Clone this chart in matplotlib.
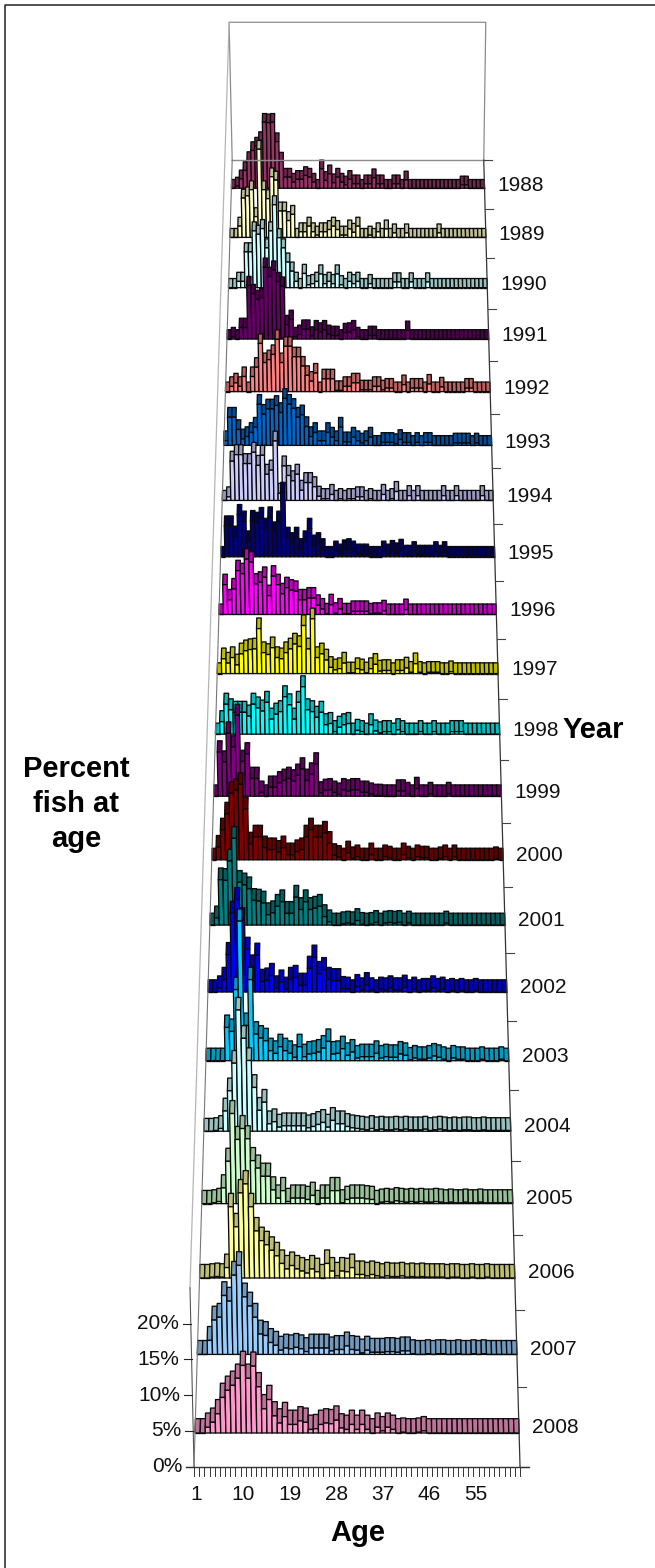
import matplotlib
matplotlib.use('Agg')
import matplotlib.pyplot as plt
from matplotlib.collections import PolyCollection
from matplotlib.colors import to_rgb

plt.rcParams['font.family'] = ['Liberation Sans', 'DejaVu Sans']

years = list(range(1988, 2009))
age_ticks = [1, 10, 19, 28, 37, 46, 55]
pct_ticks = [0, 5, 10, 15, 20]

# percent at age (63 ages per year)
v1988 = [0, .4, 1.7, 3.2, 5, 6.8, 7.6, 8.6, 11.9, 11.8,
         11.9, 8.4, 4.9, 2, 2, 1.1, 1.6, 1.6, 2.3, 2,
         1.1, 0, 3.5, 1.4, 2.6, 1, 2, 1.1, .6, 1.6,
         .8, .8, 0, .8, .8, 1.9, .8, .8, 0, 0,
         .8, .8, 0, 1.5, 0, 0, 0, 0, 0, 0,
         0, 0, 0, 0, 0, 0, 0, .6, .6, 0,
         0, 0, 0]
v1989 = [0, 0, 2, 7, 7.4, 8.5, 3.7, 15.7, 8.5, 6.9,
         10.8, 10.2, 4.7, 4.7, 3, 4.1, 0, 1, 1, 2,
         1, .4, 1, 1, 1.4, 2, 1.4, .4, .4, 1.5,
         .9, 2, 0, 0, .4, 0, 1, 0, 1.5, 0,
         .8, 0, 0, .8, 0, 0, 0, 0, 0, 0,
         0, .8, 0, 0, 0, 0, 0, 0, 0, 0,
         0, 0, 0]
v1990 = [0, 0, 1.1, 1.1, 6.3, 6.3, 10, 9.4, 10.4, 7,
         10, 14.6, 8.8, 7, 4.5, 2.9, 1.1, 0, 2.5, .5,
         .7, 1.1, 2.4, .7, 1.1, .7, 2.4, .5, 0, 1.1,
         .7, 1.1, 0, 0, .7, 0, 0, 0, 0, 0,
         1, 1, 0, 0, 1, 0, 0, 0, 1, 0,
         0, 0, 0, 0, 0, 0, 0, 0, 0, 0,
         0, 0, 0]
v1991 = [0, .4, 0, 2, 2, 9.3, 7.9, 6.9, 7.2, 12.5,
         10.9, 12, 10, 9.2, 2.5, 3.4, .4, .8, 1.7, 1.7,
         .5, 1.6, 1.2, 1.6, .8, .6, .6, 0, 1.1, 1.2,
         1.6, .4, 0, 0, .6, .6, 0, 0, 0, 0,
         0, 0, 0, 1.5, 0, 0, 0, 0, 0, 0,
         0, 0, 0, 0, 0, 0, 0, 0, 0, 0,
         0, 0, 0]
v1992 = [0, .9, 1.5, .9, 2.6, 0, 2.6, 4.2, 8.3, 5,
         5.5, 6.4, 9, 5, 7.8, 7.8, 6, 6, 4.4, 2.8,
         1.8, 3.2, 0, 2.2, 2.2, 2.2, .2, .2, .9, .9,
         1.5, 1.5, .3, .3, .3, .9, .9, .3, .6, .6,
         0, 0, 1.2, 0, .6, .6, .6, 0, 1.3, 0,
         0, .8, 0, 0, 0, 0, 0, .6, .6, 0,
         0, 0, 0]
v1993 = [.8, 4.8, 4.8, 2.7, 1.1, 1.5, 2.2, 3.1, 7, 5.3,
         6.2, 6.2, 6.8, 5.6, 8, 7, 6.3, 4.8, 5.2, 3.2,
         1.5, 2.2, .8, .8, 2.2, 1.4, .8, 3.1, .6, .6,
         1.4, .8, .4, .8, 1.4, 0, 0, .5, .5, .5,
         .3, 1, .5, .5, 0, .5, 0, .5, .5, 0,
         0, 0, 0, 0, .4, .4, .4, .4, 0, .4,
         0, 0, 0]
v1994 = [0, .6, 6.6, 7.7, 7.7, 6.2, 6.2, 8.1, 5.9, 7.6,
         4.4, 5.1, 10, 1.2, 5.8, 4.2, 3.3, 4.4, 1.7, 3,
         3, 2.3, .7, .3, .3, 1, 0, .3, 0, .3,
         .3, .6, .6, 0, .3, 0, 0, 1, 0, .3,
         1.5, 0, 0, .8, 0, .8, 0, 0, 0, 0,
         0, .8, 0, 0, .8, 0, 0, 0, 0, 0,
         .8, 0, 0]
v1995 = [0, 5.1, 5.1, 3.4, 7, 5.9, 2.6, 6, 5.7, 6.5,
         4.7, 6.6, 4.1, 5.9, 10.7, 3.2, 2.3, 3.2, 1.3, 2.6,
         4.7, 1.9, 2.3, 1.3, 0, 0, .9, .4, 1.1, 1.3,
         .9, .4, .4, .4, 0, 0, 0, .9, .4, 1,
         .6, 1.2, .2, .2, .8, .2, .2, .2, .2, .8,
         .2, .8, 0, 0, 0, 0, 0, 0, 0, 0,
         0, 0, 0]
v1996 = [0, 4.9, 2.4, 4.2, 7.2, 6.7, 9.1, 8.6, 5, 5.3,
         6.1, 3.1, 6.3, 4.9, 3.4, 4.4, 4, 3.8, 2.4, 2.4,
         2.7, 2.7, 1.5, .9, .1, 1.6, .2, .9, .1, .1,
         .5, .5, .5, .5, .1, .2, .2, .6, 0, 0,
         0, 0, .8, 0, 0, 0, 0, 0, 0, 0,
         0, 0, 0, 0, 0, 0, 0, 0, 0, 0,
         0, 0, 0]
v1997 = [0, 2.4, 1.7, 2.6, 1.4, 3.2, 3.7, 3.9, 4, 7.3,
         3.4, 3.1, 4.2, 2.6, 2.4, 3.4, 4, 4.8, 4.4, 7.8,
         4, 8.9, 2.6, 3.2, 2.2, 1, .6, .8, 1.7, .1,
         .1, .8, .6, .1, .8, 1.5, .4, .5, .5, 0,
         .5, .5, .9, .2, 1.6, .2, 0, .2, .2, .2,
         0, 0, .3, 0, 0, 0, 0, 0, 0, 0,
         0, 0, 0]
v1998 = [0, 2, 4.8, 3.9, 3.5, 3.5, 3.5, 2.9, 4.8, 4.2,
         3.7, 5.1, 2.4, 3.2, 3.6, 6, 4.7, 2.4, 5.1, 7.6,
         3.9, 3.6, 2.7, 3.5, 1.5, 1.7, .4, 1.1, 1.5, 1.7,
         0, .6, .4, 0, 1.5, .5, .2, .4, .4, 0,
         .7, .4, 0, 0, 0, .4, 0, 0, .4, 0,
         0, 0, .4, .4, .4, 0, 0, 0, 0, 0,
         0, 0, 0]
v1999 = [0, 7, 5.4, 10, 7.8, 12.8, 5.5, 6.7, 2.8, 2.8,
         .6, 0, 1.4, 1.4, 2.1, 2.5, 2.8, 2.4, 3.3, 4.3,
         2.5, 3.5, 5.1, .5, .9, 1, .6, .3, 1, .8,
         1, 1, .6, .6, .3, .1, .1, 0, 0, 0,
         .8, .8, .4, 0, 1.2, 0, 0, .4, 0, 0,
         0, .4, 0, 0, 0, 0, 0, 0, 0, 0,
         0, 0, 0]
v2000 = [0, 2, 4.7, 7.2, 10.4, 10.9, 11.8, 8, 2.5, 3.6,
         3.6, 1.9, 1.6, 1.6, 1.2, 1.9, .8, .8, 1.3, 1.6,
         3.6, 4.7, 3.6, 3.6, 4.2, 2.6, .7, .4, 0, 1.1,
         .2, .5, 0, 0, .8, 0, 0, .5, .3, 0,
         0, .8, .3, 0, .5, .3, .3, 0, 0, .2,
         .5, 0, .5, 0, 0, 0, 0, 0, 0, 0,
         0, .2, 0]
v2001 = [0, 1.1, 7, 6.9, 9.9, 13.4, 6.6, 6.2, 5.6, 3.8,
         3.7, 3.4, 1.6, 1.9, 2.9, 3.6, 1.8, 1.8, 4.3, 2.4,
         3.6, 2.4, 2.6, 2.9, 1.3, .5, 0, 0, .2, .3,
         .2, .7, .1, 0, .1, .4, 0, .3, .4, .3,
         .4, 0, .3, 0, 0, 0, 0, 0, 0, 0,
         .3, 0, 0, 0, 0, 0, 0, 0, 0, 0,
         0, 0, 0]
v2002 = [0, 0, .6, 1.9, 5.7, 12, 14.1, 11, 6.5, 3.8,
         5.6, 1.6, 1.8, 2.5, .6, 1.5, .4, 1.9, 2.2, 1,
         1, 3.6, 5.3, 2.8, 3.4, 1.9, 1.7, 1.7, .5, .4,
         0, .8, .3, 1.1, .3, 0, .4, .3, .6, .3,
         .3, .7, 0, .4, 0, .2, .2, .6, .2, .4,
         0, .2, 0, .2, 0, 0, .2, 0, 0, 0,
         0, 0, 0]
v2003 = [0, 0, 0, 0, 5, 4.4, 10.7, 21, 5.3, 12.2,
         4, 3.4, 3, 1.5, 1.1, 2.1, 1.5, 1.1, .5, 2.1,
         .6, 1, 1.1, 1.3, 1.9, 2.9, 1, 1.1, 1.8, .8,
         1.3, .4, .6, .6, .6, 1.1, .4, .6, .5, .5,
         1, .8, .1, .4, .2, .2, .4, .7, .5, .2,
         0, .4, .2, .2, 0, 0, 0, .2, 0, 0,
         0, .2, 0]
v2004 = [0, 0, .1, .4, 3, 6, 10.1, 18, 13.8, 10.5,
         6.5, 3.1, 4.3, 1.1, 1.4, .6, .8, .8, .8, .8,
         .8, .5, .7, 1, 1.3, .6, 1.6, 1.1, 1.1, .7,
         .5, .4, .3, .2, .4, .2, .3, .2, .2, .3,
         .2, .3, .2, .2, .2, .3, .1, .2, .3, .2,
         .1, .2, .1, .2, .2, .1, .1, .2, .1, .1,
         .1, .1, .1]
v2005 = [0, 0, .1, .3, 2.3, 6.2, 13.2, 9.4, 11, 9.5,
         6.3, 5.2, 4, 4, 2, .8, 1.9, .3, .8, .8,
         .8, .6, 1.2, 0, .8, .8, 1.9, 1.9, .1, .6,
         .8, .8, .8, .7, .6, 0, .2, .3, .2, .4,
         .3, .2, .3, .2, .3, .2, .2, .3, .2, .1,
         .2, .1, .1, .2, .1, .1, .2, .1, .1, .1,
         .1, .1, .1]
v2006 = [0, 0, .1, .2, .1, 1.5, 10.3, 7.4, 12.3, 13.6,
         10.3, 6.8, 5.4, 4.8, 4, 3.2, 2.1, 1.3, 1.8, 1.3,
         1, .7, 1.3, .9, 0, 2.1, 1, .3, 1, .9,
         1.5, .5, .5, .3, .5, .3, .1, .3, .2, .2,
         .3, .1, .2, .1, .2, .1, .1, .1, .1, 0,
         .1, .1, 0, 0, .1, 0, 0, .1, 0, 0,
         0, 0, 0]
v2007 = [0, 0, 2, 4.9, 5.3, 8.4, 7.6, 11.3, 12.7, 8.2,
         6.9, 5.3, 2.9, 2.7, 1.7, 1.3, .6, .9, .8, 1,
         .8, .4, .9, .9, .9, .9, .5, .7, .7, 1.2,
         .7, .6, .2, .6, .3, .3, .3, .4, .4, .3,
         .5, .5, .1, 0, 0, .1, 0, .1, .1, 0,
         0, .1, 0, 0, .1, 0, .1, 0, 0, 0,
         0, 0, 0]
v2008 = [0, 0, .8, 1.5, 2.7, 5, 6, 6.7, 7.7, 9.5,
         7.7, 9.4, 6.5, 3.4, 4.7, 2.4, 1.4, 2.3, 1.2, 1.2,
         1.7, 1.5, .5, .6, 1.2, 1.4, 1.3, 1.8, .7, .5,
         1.2, .5, 1.2, .5, 0, .8, .3, .8, .5, 0,
         .1, 0, 0, .1, .3, 0, 0, 0, 0, 0,
         0, 0, 0, 0, 0, 0, 0, 0, 0, 0,
         0, 0, 0]
series = [v1988, v1989, v1990, v1991, v1992, v1993, v1994, v1995, v1996, v1997, v1998,
          v1999, v2000, v2001, v2002, v2003, v2004, v2005, v2006, v2007, v2008]

colors = ['#993366', '#FFFFCC', '#CCFFFF', '#660066', '#FF8080', '#0066CC', '#CCCCFF',
          '#000080', '#FF00FF', '#FFFF00', '#00FFFF', '#800080', '#800000', '#008080',
          '#0000FF', '#00CCFF', '#CCFFFF', '#CCFFCC', '#FFFF99', '#99CCFF', '#FF99CC']

n_age = 63
r = 0.01401       # perspective
bar_depth = 0.18  # share of a row taken by the bar
front = -0.42     # depth of the front of the floor
back = 20.58
top_pct = 25


def proj(age, pct, d):
    # age: 0..63 along the row, pct: height, d: rows behind the 2008 row
    f = age / n_age
    s = 1 / (1 + r * d)
    h = pct * 7.11 * s
    x = (195 + 324.1 * f + 5.06 * d) * s + (-0.0225 + 0.0371 * f) * h
    y = (1433 - 59.6 * d) * s - h
    return x, y


fig = plt.figure(figsize=(6.55, 15.68), dpi=100)
ax = fig.add_axes([0, 0, 1, 1])
ax.set_xlim(0, 655)
ax.set_ylim(1568, 0)
ax.axis('off')

# outer frame, only top and left show
ax.plot([5, 5, 655], [1568, 5, 5], color='#222222', lw=1.1)

# walls
wall = '#8c8c8c'
ax.plot(*zip(proj(0, 0, back), proj(0, top_pct, back), proj(n_age, top_pct, back), proj(n_age, 0, back)),
        color=wall, lw=0.9)
ax.plot(*zip(proj(0, top_pct, front), proj(0, top_pct, back)), color='#b5b5b5', lw=0.9)
ax.plot(*zip(proj(0, 0, back), proj(n_age, 0, back)), color=wall, lw=1.0)
ax.plot(*zip(proj(0, 0, front), proj(0, top_pct, front)), color='#555555', lw=0.8)
ax.plot(*zip(proj(0, 0, front), proj(0, 0, back)), color='#777777', lw=0.8)
ax.plot(*zip(proj(n_age, 0, front), proj(n_age, 0, back)), color='#333333', lw=0.9)

# bars, far rows first
for row, (vals, col) in enumerate(zip(series, colors)):
    assert len(vals) == n_age
    d = 20 - row
    rgb = to_rgb(col)
    dark = tuple(c * 0.75 for c in rgb)
    fronts = []
    tops = []
    for i, v in enumerate(vals):
        fronts.append([proj(i, 0, d), proj(i + 1, 0, d), proj(i + 1, v, d), proj(i, v, d)])
        tops.append([proj(i, v, d), proj(i + 1, v, d),
                     proj(i + 1, v, d + bar_depth), proj(i, v, d + bar_depth)])
    ax.add_collection(PolyCollection(tops, facecolors=[dark], edgecolors='#0a0a0a', linewidths=0.95))
    ax.add_collection(PolyCollection(fronts, facecolors=[rgb], edgecolors='#0a0a0a', linewidths=0.95))
    xr, yr = proj(n_age, 0, d + 0.08)
    ax.text(xr + 13, yr + 1, str(years[row]), fontsize=15, ha='left', va='center', color='#111111')

# right side ticks between the years
for k in range(0, 22):
    xr, yr = proj(n_age, 0, front + k)
    ax.plot([xr, xr + 8], [yr, yr], color='#444444', lw=0.8)

# value axis
for p in pct_ticks:
    x0, y0 = proj(0, p, front)
    ax.plot([x0 - 8, x0], [y0, y0], color='#222222', lw=0.8)
    ax.text(x0 - 12, y0, '%d%%' % p, fontsize=15, ha='right', va='center', color='#111111')

# age axis
x0, y0 = proj(0, 0, front)
x1, y1 = proj(n_age, 0, front)
ax.plot([x0 - 8, x1 + 9], [y0, y1], color='#333333', lw=1.0)
for i in range(n_age + 1):
    xt, yt = proj(i, 0, front)
    ax.plot([xt, xt], [yt, yt + 9], color='#333333', lw=0.7)
for a in age_ticks:
    xt, yt = proj(a - 0.5, 0, front)
    ax.text(xt, yt + 28, str(a), fontsize=15, ha='center', va='center', color='#111111')

# titles
ax.text(76, 804, 'Percent\nfish at\nage', fontsize=21, fontweight='bold', ha='center', va='center',
        linespacing=1.34)
ax.text(358, 1533, 'Age', fontsize=21, fontweight='bold', ha='center', va='center')
ax.text(593, 730, 'Year', fontsize=21, fontweight='bold', ha='center', va='center')

fig.savefig('out.png', dpi=100)
